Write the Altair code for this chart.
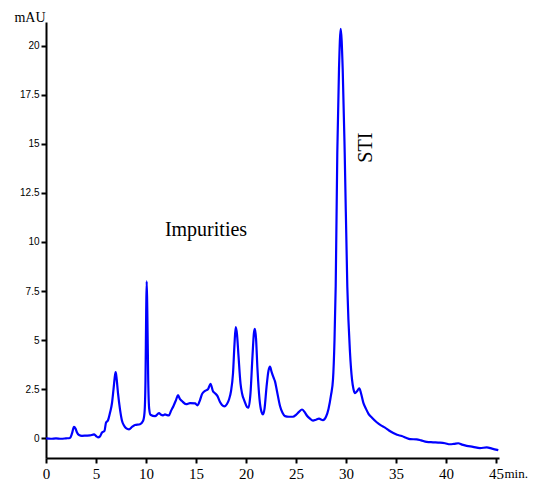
import altair as alt
import pandas as pd

# retention time (min) and absorbance (mAU)
time_min = [
    0.0, 0.5, 1.0, 1.5, 2.0, 2.4, 2.6, 2.8, 2.95, 3.1, 3.3, 3.6, 4.0, 4.4, 4.8, 5.0, 5.2, 5.4,
    5.6, 5.85, 6.0, 6.2, 6.4, 6.6, 6.75, 6.9, 6.97, 7.05, 7.2, 7.4, 7.6, 7.8, 8.0, 8.3, 8.6,
    8.9, 9.4, 9.7, 9.85, 9.95, 10.02, 10.07, 10.13, 10.22, 10.32, 10.45, 10.9, 11.3, 11.5,
    11.7, 11.9, 12.1, 12.3, 12.5, 12.75, 13.0, 13.2, 13.4, 13.6, 14.0, 14.4, 14.9, 15.15,
    15.4, 15.6, 15.9, 16.2, 16.45, 16.7, 16.9, 17.15, 17.4, 17.6, 17.85, 18.1, 18.3, 18.5,
    18.7, 18.85, 18.97, 19.1, 19.25, 19.45, 19.6, 19.85, 20.1, 20.25, 20.45, 20.65, 20.8,
    20.9, 21.0, 21.15, 21.35, 21.55, 21.7, 21.85, 22.05, 22.25, 22.4, 22.55, 22.75, 22.9,
    23.1, 23.4, 23.65, 23.9, 24.3, 24.7, 25.0, 25.3, 25.6, 25.85, 26.1, 26.4, 26.7, 27.0,
    27.3, 27.7, 28.0, 28.25, 28.5, 28.7, 28.85, 28.97, 29.13, 29.3, 29.47, 29.67, 29.87,
    30.13, 30.4, 30.6, 30.75, 30.9, 31.1, 31.33, 31.5, 31.73, 32.0, 32.25, 32.6, 33.07,
    33.5, 33.9, 34.3, 34.73, 35.1, 35.57, 36.0, 36.4, 37.07, 37.5, 38.07, 38.7, 39.4, 39.9,
    40.4, 40.8, 41.23, 41.6, 42.07, 42.7, 43.4, 44.07, 44.6, 45.23,
]
mau = [
    0.0, -0.02, 0.0, -0.02, 0.0, 0.02, 0.25, 0.58, 0.5, 0.3, 0.17, 0.13, 0.14, 0.15, 0.2, 0.12,
    0.05, 0.1, 0.3, 0.38, 0.8, 0.92, 1.3, 1.8, 2.5, 3.2, 3.38, 3.1, 2.3, 1.48, 0.9, 0.65,
    0.52, 0.46, 0.58, 0.68, 0.72, 0.88, 1.3, 3.0, 6.5, 8.0, 6.5, 3.0, 1.5, 1.2, 1.13, 1.28,
    1.2, 1.17, 1.22, 1.18, 1.17, 1.4, 1.65, 1.95, 2.2, 2.0, 1.9, 1.74, 1.79, 1.78, 1.68,
    1.95, 2.25, 2.42, 2.5, 2.78, 2.4, 2.3, 2.15, 1.85, 1.7, 1.63, 1.75, 1.98, 2.4, 3.3, 4.8,
    5.66, 5.3, 4.2, 2.8, 2.3, 1.9, 1.6, 1.56, 2.3, 4.2, 5.4, 5.58, 5.1, 3.5, 2.0, 1.35,
    1.22, 1.5, 2.6, 3.45, 3.65, 3.4, 3.1, 2.9, 2.4, 1.65, 1.3, 1.13, 1.1, 1.1, 1.2, 1.35,
    1.47, 1.35, 1.15, 1.0, 0.9, 0.95, 1.0, 0.93, 1.1, 1.5, 2.2, 3.0, 5.0, 7.75, 14.55, 18.8,
    20.85, 18.8, 14.55, 7.75, 4.37, 3.0, 2.5, 2.3, 2.4, 2.55, 2.3, 1.82, 1.5, 1.25, 1.05,
    0.82, 0.66, 0.55, 0.4, 0.27, 0.18, 0.12, 0.03, -0.04, -0.05, -0.1, -0.18, -0.2, -0.22,
    -0.25, -0.3, -0.28, -0.25, -0.32, -0.38, -0.43, -0.5, -0.46, -0.52, -0.6,
]

x_ticks = [0, 5, 10, 15, 20, 25, 30, 35, 40, 45]
y_ticks = [0, 2.5, 5, 7.5, 10, 12.5, 15, 17.5, 20]

ann_text = ["Impurities"]
ann_t = [16.0]
ann_v = [10.6]

sti_text = ["STI"]
sti_t = [32.0]
sti_v = [14.8]

df = pd.DataFrame({"t": time_min, "v": mau})
ann = pd.DataFrame({"label": ann_text, "t": ann_t, "v": ann_v})
sti = pd.DataFrame({"label": sti_text, "t": sti_t, "v": sti_v})

xscale = alt.Scale(domain=[0, 45.3], nice=False, zero=False)
yscale = alt.Scale(domain=[-1, 21.2], nice=False, zero=False)

line = alt.Chart(df).mark_line(
    color="#0000FF", strokeWidth=2.2, interpolate="monotone"
).encode(
    x=alt.X("t:Q", scale=xscale, axis=alt.Axis(
        values=x_ticks, title="min.", titleAngle=0, titleAlign="left",
        titleBaseline="alphabetic", titleX=458, titleY=19,
        titleFont="Liberation Serif", titleFontSize=13, titleFontWeight="normal",
        labelFont="Liberation Serif", labelFontSize=15, labelPadding=3,
        labelFlush=False, labelExpr="datum.value + ''",
    )),
    y=alt.Y("v:Q", scale=yscale, axis=alt.Axis(
        values=y_ticks, title="mAU", titleAngle=0, titleAlign="right",
        titleBaseline="alphabetic", titleX=-1, titleY=-1,
        titleFont="Liberation Serif", titleFontSize=14, titleFontWeight="normal",
        labelFont="Liberation Sans", labelFontSize=10, labelPadding=2,
        labelFlush=False, labelExpr="datum.value + ''",
    )),
)

imp = alt.Chart(ann).mark_text(
    font="Liberation Serif", fontSize=20, color="black", align="center", baseline="middle"
).encode(x=alt.X("t:Q", scale=xscale), y=alt.Y("v:Q", scale=yscale), text="label:N")

sti_mark = alt.Chart(sti).mark_text(
    font="Liberation Serif", fontSize=20, color="black", align="center",
    baseline="middle", angle=270
).encode(x=alt.X("t:Q", scale=xscale), y=alt.Y("v:Q", scale=yscale), text="label:N")

chart = alt.layer(line, imp, sti_mark).properties(
    width=453, height=436,
    autosize=alt.AutoSizeParams(type="none"),
    padding={"left": 38, "top": 14, "right": 30, "bottom": 30},
).configure_axis(
    grid=False, domainColor="black", domainWidth=2, tickColor="black",
    tickWidth=2, tickSize=5, labelColor="black", titleColor="black",
).configure_view(stroke=None)

chart.save("out.html", embed_options={"renderer": "svg", "actions": False})
